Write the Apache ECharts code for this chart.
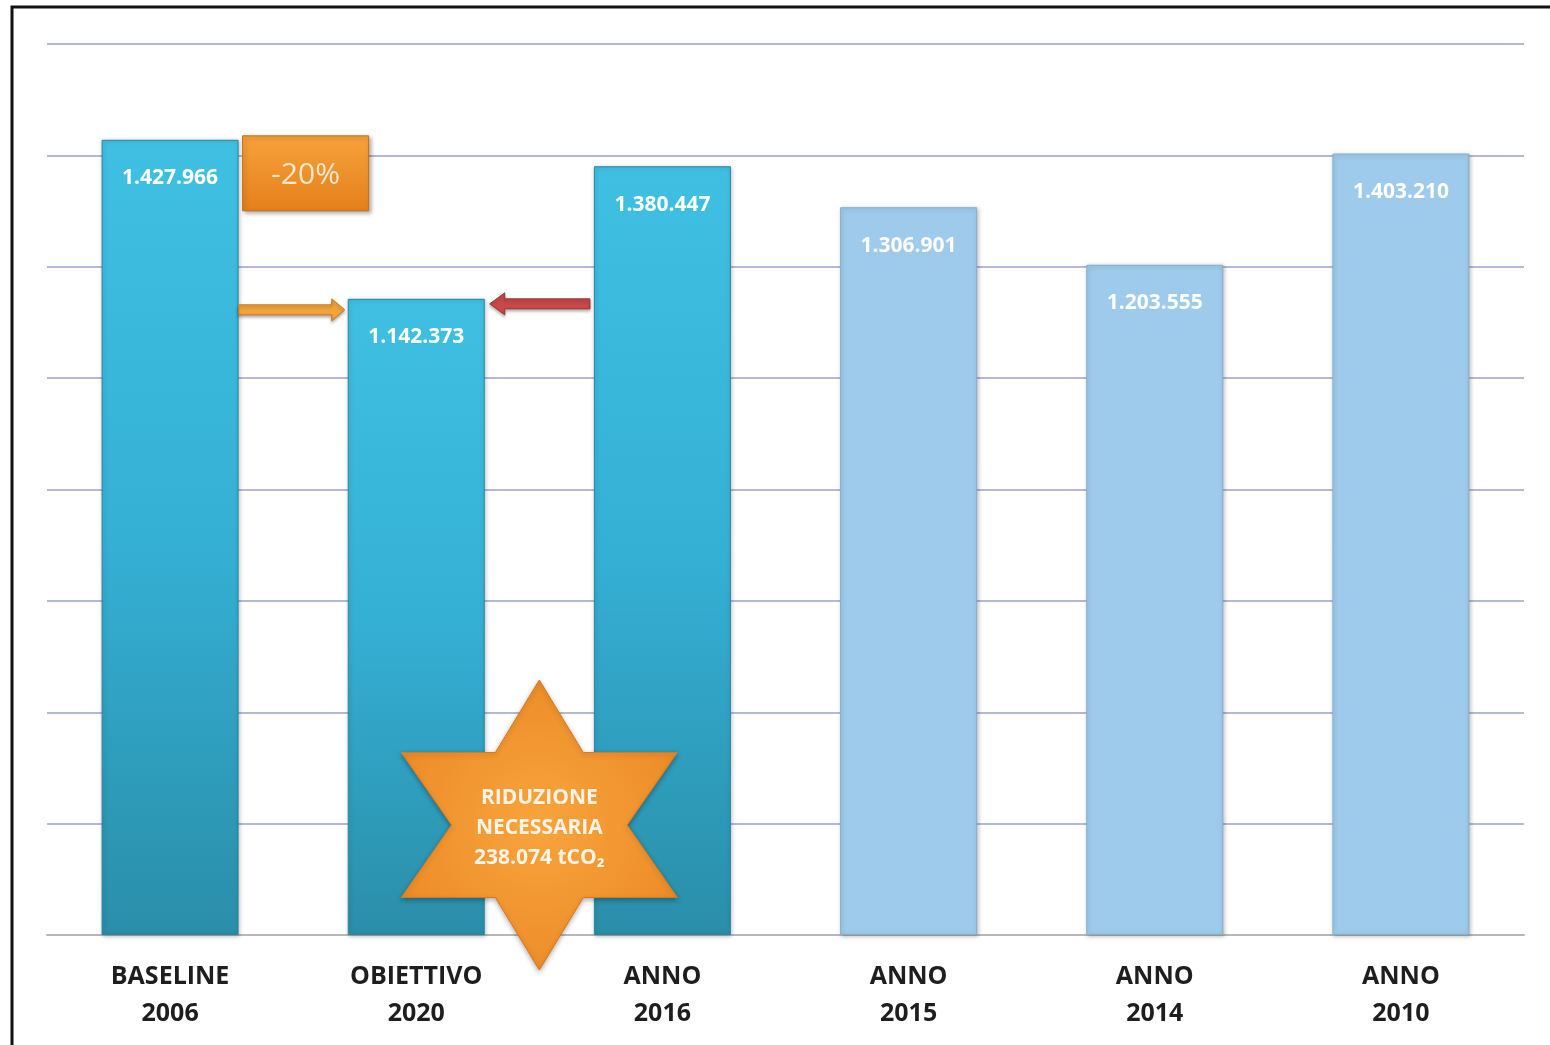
<!DOCTYPE html>
<html>
<head>
<meta charset="utf-8">
<script src="https://cdn.jsdelivr.net/npm/echarts@6/dist/echarts.min.js"></script>
<style>
html,body{margin:0;padding:0;background:#fff;}
#c{width:1550px;height:1045px;}
</style>
</head>
<body>
<div id="c"></div>
<script>
// ---- data ----
const categories = ['BASELINE\n2006', 'OBIETTIVO\n2020', 'ANNO\n2016', 'ANNO\n2015', 'ANNO\n2014', 'ANNO\n2010'];
const values = [1427966, 1142373, 1380447, 1306901, 1203555, 1403210];
const valueLabels = ['1.427.966', '1.142.373', '1.380.447', '1.306.901', '1.203.555', '1.403.210'];
const highlighted = [true, true, true, false, false, false];
const reductionPct = '-20%';
const reductionText = ['RIDUZIONE', 'NECESSARIA', '238.074 tCO\u2082'];

const FONT = '"Open Sans", Lato, sans-serif';
const darkGrad = {type:'linear',x:0,y:0,x2:0,y2:1,colorStops:[
  {offset:0,color:'#3fc0e3'},{offset:0.5,color:'#35b0d5'},{offset:1,color:'#2a8ea9'}]};
const lightColor = '#9ecbeb';

const chart = echarts.init(document.getElementById('c'), null, {renderer:'canvas'});
chart.setOption({
  backgroundColor:'#ffffff',
  animation:false,
  grid:{left:47,right:26,top:44,bottom:110,containLabel:false},
  xAxis:{
    type:'category', data:categories,
    axisLine:{show:true,lineStyle:{color:'#b8b8b8',width:2}},
    axisTick:{show:false},
    axisLabel:{color:'#1e1e1e',fontFamily:FONT,fontWeight:'bold',fontSize:25,lineHeight:37,margin:23}
  },
  yAxis:{
    type:'value', min:0, max:1600000, interval:200000,
    axisLabel:{show:false}, axisLine:{show:false}, axisTick:{show:false},
    splitLine:{lineStyle:{color:'#b4bad6',width:2}}
  },
  series:[{
    type:'bar',
    barWidth:137,
    data: values.map((v,i)=>({
      value:v,
      itemStyle:{
        color: highlighted[i] ? darkGrad : lightColor,
        borderColor: highlighted[i] ? '#2a86a0' : '#86afcc',
        borderWidth:1,
        shadowColor:'rgba(0,0,0,0.25)', shadowBlur:4, shadowOffsetX:1, shadowOffsetY:1
      },
      label:{
        show:true, position:'insideTop', distance:28,
        formatter: valueLabels[i],
        color:'#ffffff', fontFamily:FONT, fontWeight:'bold', fontSize:21
      }
    }))
  }]
});

// annotations placed through the chart's own scales
function px(cat, val){ return chart.convertToPixel({xAxisIndex:0,yAxisIndex:0},[cat,val]); }
const p0 = px(0, values[0]);
const p1 = px(1, values[1]);
const p2 = px(2, values[2]);
const half = 68.5;

// star polygon (hexagram)
const sc = [(p1[0]+p2[0])/2, 825];
const R = 145, r = R/Math.sqrt(3);
const starPts = [];
for (let k=0;k<12;k++){
  const ang = -Math.PI/2 + k*Math.PI/6;
  const rad = (k%2===0)? R : r;
  const sx = (k%2===0)? 1.1 : 1.05;
  starPts.push([sc[0]+Math.cos(ang)*rad*sx, sc[1]+Math.sin(ang)*rad]);
}

const arrowY1 = p1[1]+11;
const arrowY2 = p1[1]+5;

chart.setOption({graphic:[
  // frame
  {type:'rect',shape:{x:12,y:7,width:1600,height:1100},style:{fill:'none',stroke:'#111',lineWidth:3},z:100},
  // -20% box
  {type:'rect',shape:{x:p0[0]+half+4,y:p0[1]-4,width:126,height:75},
    style:{fill:{type:'linear',x:0,y:0,x2:0,y2:1,colorStops:[{offset:0,color:'#f7a23a'},{offset:1,color:'#e4801c'}]},
    stroke:'#c96d15',lineWidth:1,shadowColor:'rgba(0,0,0,0.3)',shadowBlur:4,shadowOffsetX:2,shadowOffsetY:2},z:50},
  {type:'text',x:p0[0]+half+4+63,y:p0[1]-4+40,
    style:{text:reductionPct,fill:'#fde7cc',font:'30px '+FONT,textAlign:'center',textVerticalAlign:'middle'},z:51},
  // orange arrow (right)
  {type:'polygon',shape:{points:[
    [p0[0]+half,arrowY1-5],[p1[0]-half-16,arrowY1-5],[p1[0]-half-16,arrowY1-11],[p1[0]-half-3,arrowY1],
    [p1[0]-half-16,arrowY1+11],[p1[0]-half-16,arrowY1+5],[p0[0]+half,arrowY1+5]]},
    style:{fill:'#f2a43a',stroke:'#c9761f',lineWidth:1,shadowColor:'rgba(0,0,0,0.3)',shadowBlur:3,shadowOffsetY:2},z:50},
  // red arrow (left)
  {type:'polygon',shape:{points:[
    [p2[0]-half-4,arrowY2-5],[p1[0]+half+20,arrowY2-5],[p1[0]+half+20,arrowY2-11],[p1[0]+half+5,arrowY2],
    [p1[0]+half+20,arrowY2+11],[p1[0]+half+20,arrowY2+5],[p2[0]-half-4,arrowY2+5]]},
    style:{fill:'#c9484a',stroke:'#9c3234',lineWidth:1,shadowColor:'rgba(0,0,0,0.3)',shadowBlur:3,shadowOffsetY:2},z:50},
  // star
  {type:'polygon',shape:{points:starPts},
    style:{fill:{type:'radial',x:0.5,y:0.5,r:0.6,colorStops:[{offset:0,color:'#f8a43c'},{offset:1,color:'#ec8a26'}]},
    stroke:'#d9781c',lineWidth:1,shadowColor:'rgba(0,0,0,0.3)',shadowBlur:5,shadowOffsetY:2},z:60},
  {type:'text',x:sc[0],y:798,style:{text:reductionText[0],fill:'#fff4e6',font:'bold 21px '+FONT,textAlign:'center',textVerticalAlign:'middle'},z:61},
  {type:'text',x:sc[0],y:828,style:{text:reductionText[1],fill:'#fff4e6',font:'bold 21px '+FONT,textAlign:'center',textVerticalAlign:'middle'},z:61},
  {type:'text',x:sc[0],y:858,style:{text:reductionText[2],fill:'#fff4e6',font:'bold 21px '+FONT,textAlign:'center',textVerticalAlign:'middle'},z:61}
]});
</script>
</body>
</html>
